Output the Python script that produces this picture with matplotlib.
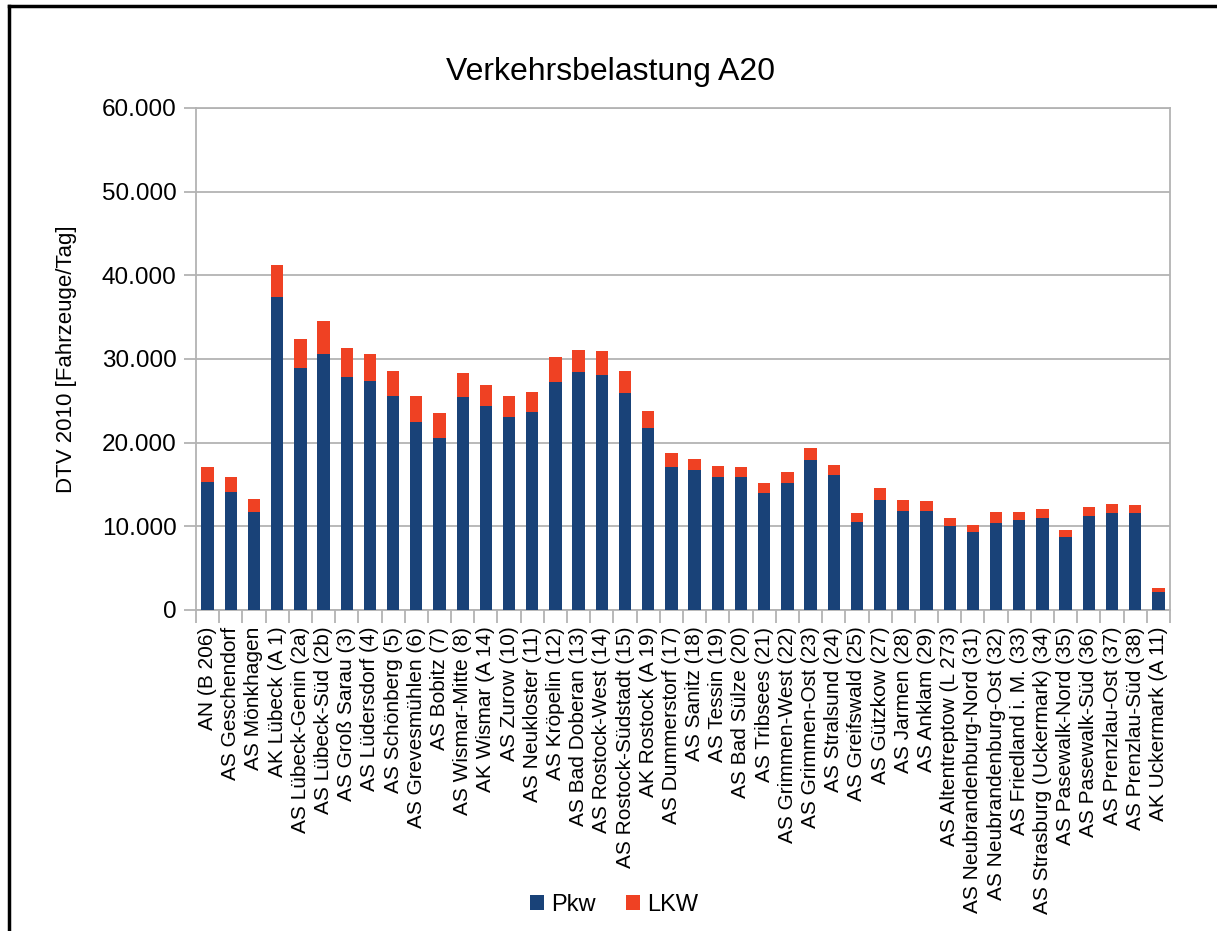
import matplotlib
matplotlib.use("Agg")
import matplotlib.pyplot as plt
from matplotlib.lines import Line2D
from matplotlib.ticker import FuncFormatter, MultipleLocator
import numpy as np

categories = [
    "AN (B 206)", "AS Geschendorf", "AS Mönkhagen", "AK Lübeck (A 1)",
    "AS Lübeck-Genin (2a)", "AS Lübeck-Süd (2b)", "AS Groß Sarau (3)",
    "AS Lüdersdorf (4)", "AS Schönberg (5)", "AS Grevesmühlen (6)",
    "AS Bobitz (7)", "AS Wismar-Mitte (8)", "AK Wismar (A 14)", "AS Zurow (10)",
    "AS Neukloster (11)", "AS Kröpelin (12)", "AS Bad Doberan (13)",
    "AS Rostock-West (14)", "AS Rostock-Südstadt (15)", "AK Rostock (A 19)",
    "AS Dummerstorf (17)", "AS Sanitz (18)", "AS Tessin (19)", "AS Bad Sülze (20)",
    "AS Tribsees (21)", "AS Grimmen-West (22)", "AS Grimmen-Ost (23)",
    "AS Stralsund (24)", "AS Greifswald (25)", "AS Gützkow (27)", "AS Jarmen (28)",
    "AS Anklam (29)", "AS Altentreptow (L 273)", "AS Neubrandenburg-Nord (31)",
    "AS Neubrandenburg-Ost (32)", "AS Friedland i. M. (33)",
    "AS Strasburg (Uckermark) (34)", "AS Pasewalk-Nord (35)",
    "AS Pasewalk-Süd (36)", "AS Prenzlau-Ost (37)", "AS Prenzlau-Süd (38)",
    "AK Uckermark (A 11)",
]

pkw = [
    15270, 14070, 11660, 37470, 28900, 30580, 27860, 27330, 25610, 22480,
    20520, 25410, 24370, 23090, 23700, 27240, 28480, 28080, 25960, 21760,
    17120, 16680, 15840, 15840, 14000, 15200, 17960, 16080, 10560, 13160,
    11840, 11880, 10080, 9320, 10400, 10800, 10960, 8680, 11240, 11600,
    11600, 2120,
]

total = [
    17150, 15870, 13310, 41280, 32340, 34510, 31260, 30620, 28540, 25530,
    23490, 28380, 26890, 25610, 26050, 30240, 31120, 30920, 28600, 23800,
    18720, 18000, 17200, 17080, 15200, 16480, 19320, 17280, 11600, 14600,
    13120, 13080, 10960, 10120, 11760, 11720, 12040, 9520, 12280, 12680,
    12520, 2600,
]

lkw = [t - p for t, p in zip(total, pkw)]

series_names = ["Pkw", "LKW"]
title = "Verkehrsbelastung A20"
ylabel = "DTV 2010 [Fahrzeuge/Tag]"

plt.rcParams['font.family'] = ['Liberation Sans', 'DejaVu Sans']

fig = plt.figure(figsize=(12.17, 9.31), dpi=100)
ax = fig.add_axes([196/1217, 1-610/931, (1170-196)/1217, (610-108)/931])

c_pkw = "#194278"
c_lkw = "#ef4123"
x = np.arange(len(categories))
w = 0.53
ax.bar(x, pkw, width=w, color=c_pkw, label=series_names[0], zorder=3)
ax.bar(x, lkw, width=w, bottom=pkw, color=c_lkw, label=series_names[1], zorder=3)

ax.set_xlim(-0.5, len(categories) - 0.5)
ax.set_ylim(0, 60000)
ax.yaxis.set_major_locator(MultipleLocator(10000))
ax.yaxis.set_major_formatter(FuncFormatter(lambda v, p: f"{int(v):,}".replace(",", ".")))
ax.grid(axis="y", color="#b3b3b3", linewidth=1.3, zorder=0)
for s in ax.spines.values():
    s.set_color("#b3b3b3")
    s.set_linewidth(1.3)

ax.set_xticks(x)
ax.set_xticklabels(categories, rotation=90, fontsize=15, va="top", ha="center")
ax.tick_params(axis="x", which="major", length=0, pad=12)
ax.set_xticks(np.arange(-0.5, len(categories), 1.0), minor=True)
ax.tick_params(axis="x", which="minor", length=9, color="#b3b3b3", width=1.3)
ax.tick_params(axis="y", length=9, color="#b3b3b3", width=1.3, labelsize=17.5, pad=5)

ax.set_ylabel(ylabel, fontsize=16, labelpad=18)
fig.text(611/1217, 1-72/931, title, ha="center", va="center", fontsize=23)

leg = fig.legend(loc="center", bbox_to_anchor=(614/1217, 1-905/931), ncol=2,
                 frameon=False, fontsize=17, handlelength=0.6, handleheight=0.6,
                 handletextpad=0.3, columnspacing=1.3)

fig.add_artist(Line2D([9/1217, 9/1217], [0, 1-6/931], color="black", linewidth=2.5,
                      transform=fig.transFigure))
fig.add_artist(Line2D([9/1217, 1], [1-6/931, 1-6/931], color="black", linewidth=2.5,
                      transform=fig.transFigure))

fig.savefig("out.png", dpi=100)
